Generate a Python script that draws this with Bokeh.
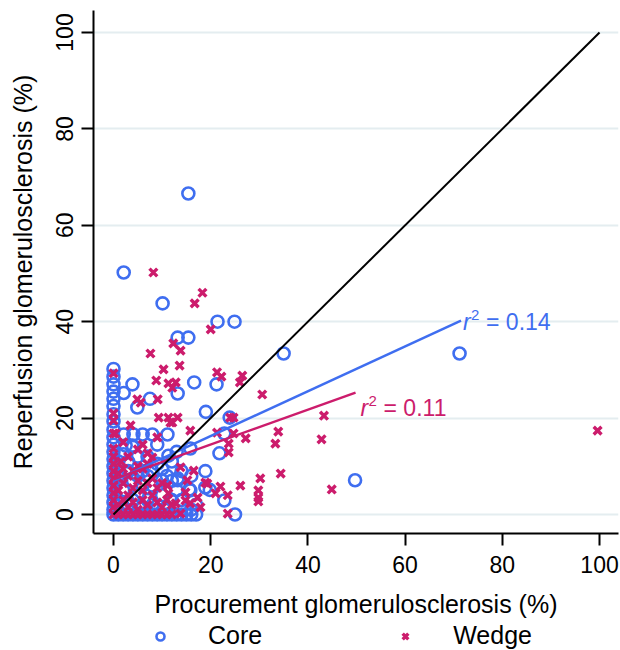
from bokeh.plotting import figure
from bokeh.layouts import column
from bokeh.models import Range1d, FixedTicker, Legend, LegendItem
from bokeh.core.properties import value
from bokeh.embed import file_html
from bokeh.resources import INLINE

# ---------------- data ----------------
core_x = [15.4, 2.1, 10.1, 21.4, 24.9, 13.2, 15.4, 35.0, 71.2, 21.2, 16.6, 3.9, 2.1, 13.2, 7.5,
          4.9, 19.0, 23.9, 22.8, 21.8, 15.8, 18.9, 13.2, 15.6, 19.8, 22.8, 25.0, 49.7, 18.9,
          0, 0, 0, 0, 0, 0, 0, 0, 0, 0, 0, 0, 0, 0, 0, 0, 0, 0, 0, 0, 0,
          2.1, 4.1, 6.0, 8.0, 11.1,
          1, 2, 3, 4, 5, 6, 7, 8, 9, 10, 11, 12, 13, 14, 15, 16, 17,
          2.5, 3.9, 11.3, 10.0, 13.2, 15.8, 1, 2, 3, 4, 5, 6, 7, 8, 9, 3, 5, 1, 2, 7, 10, 11, 12,
          6, 8, 4, 9, 12, 14, 14, 16, 13, 17, 3, 5, 8, 10, 11, 1, 6, 4, 2, 9, 13, 16, 12, 7]
core_y = [66.6, 50.2, 43.8, 40.0, 40.0, 36.7, 36.7, 33.4, 33.4, 27.0, 27.4, 27.0, 25.2, 25.1, 24.0,
          22.2, 21.3, 20.1, 16.8, 12.7, 13.7, 9.0, 7.1, 5.2, 5.1, 2.9, 0.0, 7.1, 5.6,
          30.2, 28.6, 27.0, 25.5, 24.0, 22.5, 20.8, 19.3, 17.6, 16.0, 14.5, 13.0, 11.5, 10.0, 8.5,
          7.0, 5.5, 4.0, 2.5, 1.0, 0.0,
          16.6, 16.6, 16.6, 16.6, 16.6,
          0, 0, 0, 0, 0, 0, 0, 0, 0, 0, 0, 0, 0, 0, 0, 0, 0,
          14.3, 14.3, 12.2, 9.5, 7.5, 5.0, 3, 5, 2, 7, 4, 9, 3, 6, 10.5, 11, 12, 8, 12.5, 12, 4, 8, 3,
          1.5, 2, 14, 14.5, 11, 9, 3, 8, 13, 2, 9, 8, 9, 7, 1.5, 11, 6, 3, 1.5, 1, 5, 1, 7, 8]

wedge_x = [8.2, 18.3, 16.7, 20.0, 12.3, 7.6, 13.8, 13.6, 10.3, 21.3, 22.2, 26.5, 26.0, 8.8, 11.3,
           12.8, 12.1, 30.6, 4.9, 5.6, 9.1, 24.0, 24.7, 43.3, 3.5, 9.3, 11.3, 12.1, 13.2, 21.3,
           24.7, 33.9, 27.2, 33.3, 42.8, 23.7, 23.7, 34.4, 30.2, 18.9, 19.3, 22.0, 26.1, 44.9,
           21.0, 23.5, 29.8, 29.8, 29.8, 23.5, 99.6,
           0, 0, 0, 0, 0, 0, 0, 0, 0, 0, 0, 0, 0, 0,
           1, 2, 3, 4, 5, 6, 7, 8, 9, 10, 11, 12, 13.8,
           1, 2, 3, 4, 5, 6, 7, 8, 9, 10, 11, 12,
           1, 2, 3, 4, 5, 6, 7, 8, 9, 10, 11.1, 11.3,
           1, 2, 3, 4, 5, 6, 7, 8, 7, 3, 5, 1.5,
           14.8, 17.3, 13.8, 16.5, 15.8, 11.7, 0.4, 2, 6, 9, 14.8, 12.8, 15.8, 15.2, 17.9]
wedge_y = [50.2, 46.0, 43.8, 38.4, 35.5, 33.4, 34.0, 30.9, 30.1, 29.5, 28.6, 28.8, 27.4, 27.8, 27.2,
           27.4, 26.3, 24.9, 23.9, 23.2, 23.9, 20.1, 20.1, 20.5, 18.5, 20.1, 20.1, 19.1, 20.1, 17.0,
           16.8, 17.2, 15.8, 14.7, 15.6, 14.7, 12.9, 8.5, 7.5, 6.6, 6.4, 5.8, 6.0, 5.2,
           4.4, 4.0, 5.0, 3.5, 2.7, 0.2, 17.4,
           29.3, 21.0, 19.5, 16.8, 13.7, 12.0, 10.5, 9.0, 7.5, 6.0, 4.5, 3.0, 1.5, 0.0,
           0, 0, 0, 0, 0, 0, 0, 0, 0, 0, 0, 0, 0.2,
           2, 3, 1.5, 2.5, 1, 3, 2, 4, 2.5, 1.5, 3, 2,
           5, 6.5, 4, 5.5, 7, 5, 6.5, 7.5, 5.5, 6.5, 6.0, 4.4,
           8.5, 9.5, 8, 9, 10, 9.5, 10.5, 11.8, 12.7, 12, 13.5, 11,
           2.9, 3.5, 9.8, 9.1, 17.4, 19.1, 16.8, 15, 14.5, 16, 4.6, 2.3, 2.3, 7.1, 1.5]

fit_core_x = [0.0, 71.5]
fit_core_y = [7.0, 40.2]
fit_wedge_x = [0.0, 49.8]
fit_wedge_y = [7.3, 25.3]
diag_x = [0, 100]
diag_y = [0, 100]

ticks = [0, 20, 40, 60, 80, 100]
r2_core = "0.14"
r2_wedge = "0.11"
series_names = ["Core", "Wedge"]

BLUE = "#3f6ef0"
RED = "#cc1c6c"
FONT = "Liberation Sans"

p = figure(width=620, height=620, output_backend="svg", toolbar_location=None,
           x_range=Range1d(-4.115, 103.9), y_range=Range1d(-3.94, 104.56),
           min_border_left=93, min_border_top=10, min_border_right=2, min_border_bottom=87)
p.outline_line_color = None
p.background_fill_color = "white"
p.border_fill_color = "white"

for ax in (p.xaxis[0], p.yaxis[0]):
    ax.ticker = FixedTicker(ticks=ticks)
    ax.axis_line_width = 2
    ax.axis_line_color = "black"
    ax.major_tick_line_width = 2
    ax.major_tick_line_color = "black"
    ax.major_tick_out = 12
    ax.major_tick_in = 0
    ax.minor_tick_line_color = None
    ax.major_label_text_font = FONT
    ax.major_label_text_font_size = "23px"
    ax.major_label_text_color = "black"
    ax.axis_label_text_font = FONT
    ax.axis_label_text_font_size = "25px"
    ax.axis_label_text_font_style = "normal"
    ax.axis_label_text_color = "black"

p.xaxis.axis_label = "Procurement glomerulosclerosis (%)"
p.yaxis.axis_label = "Reperfusion glomerulosclerosis (%)"
p.xaxis.major_label_standoff = 10
p.xaxis.axis_label_standoff = 14
p.yaxis.major_label_standoff = 8
p.yaxis.axis_label_standoff = 17
p.yaxis.major_label_orientation = "vertical"

p.xgrid.grid_line_color = None
p.ygrid.ticker = FixedTicker(ticks=ticks)
p.ygrid.grid_line_color = "#e4edf0"
p.ygrid.grid_line_width = 2

core_style = dict(marker="circle", size=12, fill_color=None, line_color=BLUE, line_width=2.6)
wedge_style = dict(marker="x", size=11, line_color=RED, line_width=3.4)

p.scatter(core_x, core_y, **core_style)
p.scatter(wedge_x, wedge_y, **wedge_style)

p.line(fit_core_x, fit_core_y, line_color=BLUE, line_width=2.5)
p.line(fit_wedge_x, fit_wedge_y, line_color=RED, line_width=2.5)
p.line(diag_x, diag_y, line_color="black", line_width=2)

def r2_label(xs, ys, val, color, dx, dy):
    x = [xs[-1]]
    y = [ys[-1]]
    p.text(x, y, text=["r"], x_offset=dx, y_offset=dy, text_color=color,
           text_font=value(FONT), text_font_size="23px", text_font_style="italic",
           text_baseline="alphabetic", text_align="left")
    p.text(x, y, text=["2"], x_offset=dx + 8, y_offset=dy - 7, text_color=color,
           text_font=value(FONT), text_font_size="15px",
           text_baseline="alphabetic", text_align="left")
    p.text(x, y, text=["= " + val], x_offset=dx + 23, y_offset=dy, text_color=color,
           text_font=value(FONT), text_font_size="23px",
           text_baseline="alphabetic", text_align="left")

r2_label(fit_core_x, fit_core_y, r2_core, BLUE, 2, 1)
r2_label(fit_wedge_x, fit_wedge_y, r2_wedge, RED, 5, 15)

# ---- legend strip below the plot (its sample points lie outside its own view) ----
lg = figure(width=620, height=30, output_backend="svg", toolbar_location=None,
            x_axis_type=None, y_axis_type=None, min_border=0,
            x_range=Range1d(-1000, -999), y_range=Range1d(-1000, -999))
lg.outline_line_color = None
lg.border_fill_color = "white"
lg.background_fill_color = "white"
core_leg = lg.scatter(x=core_x[:1], y=core_y[:1], **core_style)
wedge_leg = lg.scatter(x=wedge_x[:1], y=wedge_y[:1], **wedge_style)
legend = Legend(items=[LegendItem(label=series_names[0], renderers=[core_leg]),
                       LegendItem(label=series_names[1], renderers=[wedge_leg])],
                location=(57, 0), orientation="horizontal",
                glyph_width=20, glyph_height=20, label_standoff=38, spacing=133,
                padding=0, margin=0, border_line_color=None, background_fill_alpha=0,
                label_text_font=FONT, label_text_font_size="25px", label_text_color="black",
                label_height=20)
lg.add_layout(legend, "center")

layout = column(p, lg, spacing=0)
open("out.html", "w").write(file_html(layout, INLINE))
